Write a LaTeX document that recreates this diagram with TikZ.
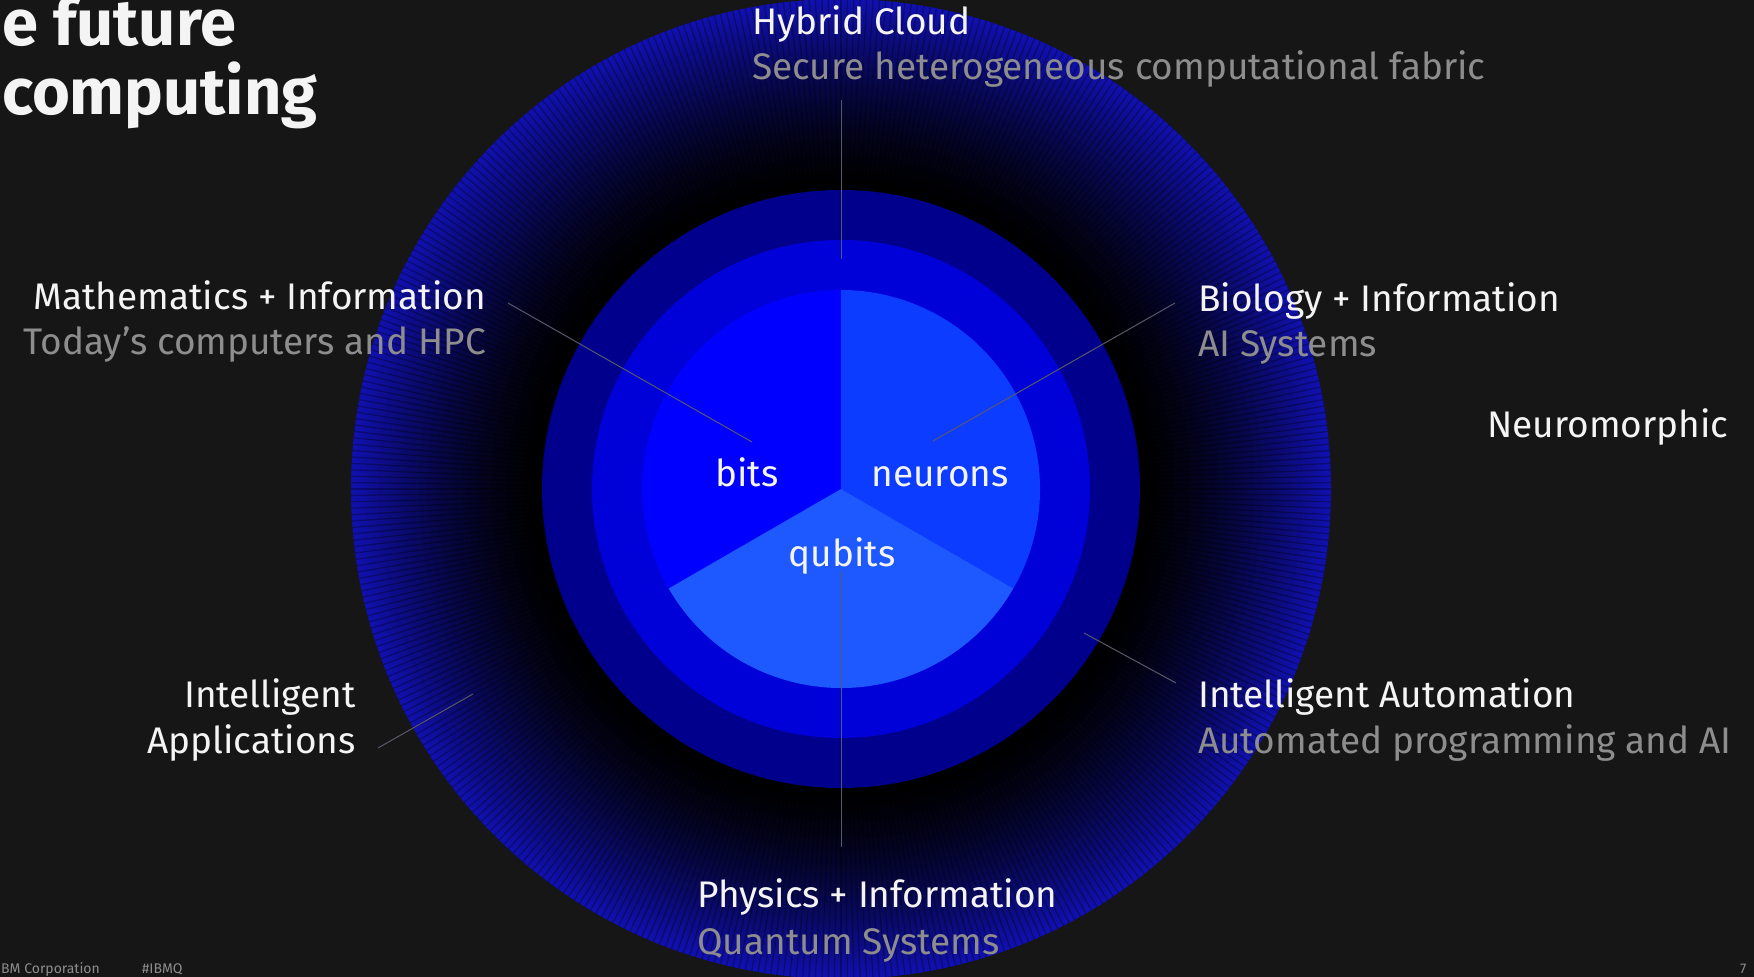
\documentclass[tikz,border=0pt]{standalone}
\usepackage{fontspec}
\setmainfont{Fira Sans}
\definecolor{bg}{HTML}{161616}
\definecolor{txt}{HTML}{F4F4F4}
\definecolor{sub}{HTML}{8D8D8D}
\definecolor{conn}{HTML}{58586A}
\definecolor{ringD}{HTML}{1010AE}
\definecolor{midring}{HTML}{00008C}
\definecolor{innring}{HTML}{0000D8}
\definecolor{bitsc}{HTML}{0000FF}
\definecolor{neurc}{HTML}{0C3CFF}
\definecolor{qubc}{HTML}{1E58FF}
\tikzset{
  lbl/.style={text=txt, font=\fontsize{37}{44}\selectfont, inner sep=0pt},
  sublbl/.style={text=sub, font=\fontsize{37}{44}\selectfont, inner sep=0pt},
  ttl/.style={text=txt, font=\fontsize{65}{72}\selectfont\bfseries, inner sep=0pt},
  foot/.style={text=sub, font=\fontsize{14}{16}\selectfont, inner sep=0pt},
  conline/.style={draw=conn, line width=1pt},
}
\begin{document}
\begin{tikzpicture}[x=1pt,y=1pt]
\useasboundingbox (0,0) rectangle (1754,977);
\clip (0,0) rectangle (1754,977);
\fill[bg] (0,0) rectangle (1754,977);
\coordinate (C) at (841,488);
% rings
\begin{scope}[shift={(C)}]
  \foreach \i in {0,...,47} {
    \pgfmathsetmacro\r{490-4*\i}
    \pgfmathsetmacro\p{100*((\r-300)/190)^1.5}
    \fill[ringD!\p!black] (0,0) circle[radius=\r];
  }
  \begin{scope}
    \clip (0,0) circle[radius=490];
    \foreach \a in {0,0.75,...,359.5}
      \draw[black, opacity=0.3, line width=1.3pt] (\a:300) -- (\a:495);
  \end{scope}
  \fill[midring] (0,0) circle[radius=299];
  \fill[innring] (0,0) circle[radius=249];
  \fill[bitsc] (0,0) -- (90:199) arc[start angle=90, end angle=210, radius=199] -- cycle;
  \fill[neurc] (0,0) -- (-30:199) arc[start angle=-30, end angle=90, radius=199] -- cycle;
  \fill[qubc] (0,0) -- (210:199) arc[start angle=210, end angle=330, radius=199] -- cycle;
\end{scope}
% connector endpoints
\coordinate (hcA) at (841,877);
\coordinate (hcB) at (841,718);
\coordinate (phA) at (841,406);
\coordinate (phB) at (841,130);
\coordinate (maA) at (508,674);
\coordinate (maB) at (752,535);
\coordinate (biA) at (1175,674);
\coordinate (biB) at (933,536);
\coordinate (iaA) at (473,283);
\coordinate (iaB) at (378,229);
\coordinate (auA) at (1084,344);
\coordinate (auB) at (1176,294);
\draw[conline] (hcA) -- (hcB);
\draw[conline] (phA) -- (phB);
\draw[conline] (maA) -- (maB);
\draw[conline] (biA) -- (biB);
\draw[conline] (iaA) -- (iaB);
\draw[conline] (auA) -- (auB);
% title
\node[ttl, anchor=base west] (t1) at (2,931) {e future};
\node[ttl, anchor=base west] (t2) at (2,862) {computing};
% labels
\node[lbl, anchor=base west] (hc) at (752,942) {Hybrid Cloud};
\node[sublbl, anchor=base west] (hcs) at (752,897) {Secure heterogeneous computational fabric};
\node[lbl, anchor=base east] (ma) at (486,667) {Mathematics + Information};
\node[sublbl, anchor=base east] (mas) at (486,622) {Today’s computers and HPC};
\node[lbl, anchor=base west] (bi) at (1198,665) {Biology + Information};
\node[sublbl, anchor=base west] (bis) at (1198,620) {AI Systems};
\node[lbl, anchor=base west] (nm) at (1487,539) {Neuromorphic};
\node[lbl, anchor=base] (bits) at (747,490) {bits};
\node[lbl, anchor=base] (neur) at (940,490) {neurons};
\node[lbl, anchor=base] (qub) at (842,410) {qubits};
\node[lbl, anchor=base east] (ia1) at (356,269) {Intelligent};
\node[lbl, anchor=base east] (ia2) at (356,223) {Applications};
\node[lbl, anchor=base west] (au) at (1198,269) {Intelligent Automation};
\node[sublbl, anchor=base west] (aus) at (1198,223) {Automated programming and AI};
\node[lbl, anchor=base west] (ph) at (697,69) {Physics + Information};
\node[sublbl, anchor=base west] (phs) at (697,22) {Quantum Systems};
% footer
\node[foot, anchor=base west] (f1) at (1,3) {BM Corporation};
\node[foot, anchor=base west] (f2) at (142,3) {\#IBMQ};
\node[foot, anchor=base west] (f3) at (1740,3) {7};
\end{tikzpicture}
\end{document}
